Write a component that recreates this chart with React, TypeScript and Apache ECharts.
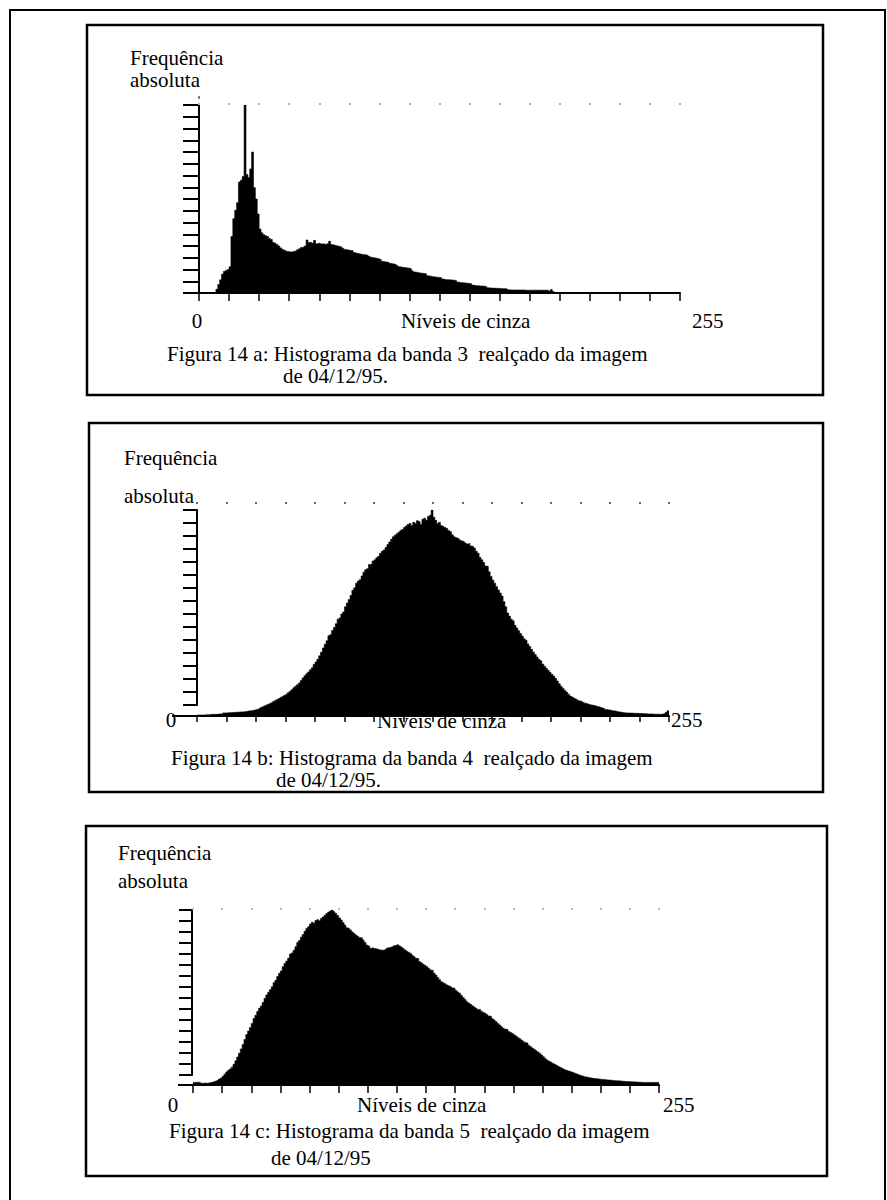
import React, { useEffect, useRef } from "react";
import * as echarts from "echarts";

// ---------- DATA (relative frequency, top of y-axis = 1000) ----------
const LEVELS = 256;

// Figura 14 a — banda 3
const band3: number[] = [
  0, 0, 0, 0, 0, 0, 0, 0, 0, 20,
  45, 70, 100, 115, 120, 125, 140, 300, 395, 440,
  480, 590, 600, 620, 1000, 630, 615, 660, 750, 560,
  500, 420, 340, 320, 310, 305, 300, 290, 285, 270,
  265, 258, 250, 240, 232, 228, 222, 220, 218, 220,
  222, 225, 230, 235, 242, 245, 250, 282, 268, 270,
  265, 280, 262, 265, 262, 260, 262, 258, 262, 275,
  258, 255, 252, 250, 248, 245, 238, 232, 230, 228,
  226, 225, 215, 212, 210, 208, 205, 204, 203, 200,
  195, 190, 188, 186, 184, 182, 178, 168, 166, 165,
  163, 158, 156, 154, 152, 145, 140, 138, 136, 135,
  133, 132, 130, 118, 112, 110, 108, 106, 105, 104,
  102, 92, 90, 88, 86, 85, 84, 83, 82, 75,
  72, 71, 70, 70, 69, 68, 67, 58, 56, 55,
  54, 53, 52, 51, 50, 42, 40, 39, 38, 37,
  37, 36, 35, 28, 27, 26, 26, 25, 25, 24,
  24, 23, 23, 22, 17, 16, 16, 16, 16, 16,
  16, 16, 16, 15, 15, 15, 15, 15, 15, 15,
  15, 15, 15, 15, 15, 14, 10, 18, 8, 0,
  0, 0, 0, 0, 0, 0, 0, 0, 0, 0,
  0, 0, 0, 0, 0, 0, 0, 0, 0, 0,
  0, 0, 0, 0, 0, 0, 0, 0, 0, 0,
  0, 0, 0, 0, 0, 0, 0, 0, 0, 0,
  0, 0, 0, 0, 0, 0, 0, 0, 0, 0,
  0, 0, 0, 0, 0, 0, 0, 0, 0, 0,
  0, 0, 0, 0, 0, 0,
];

// Figura 14 b — banda 4
const band4: number[] = [
  5, 5, 5, 5, 6, 6, 6, 8, 8, 8,
  8, 10, 10, 10, 15, 15, 16, 16, 17, 17,
  18, 18, 19, 20, 20, 21, 22, 24, 25, 26,
  28, 30, 33, 35, 40, 44, 48, 52, 56, 60,
  64, 70, 75, 80, 85, 90, 95, 100, 105, 113,
  120, 128, 137, 145, 152, 160, 172, 185, 195, 205,
  214, 224, 234, 250, 262, 275, 292, 310, 330, 348,
  365, 390, 395, 415, 430, 448, 470, 476, 495, 505,
  530, 548, 565, 585, 610, 622, 645, 655, 662, 680,
  698, 710, 715, 735, 738, 752, 758, 768, 775, 790,
  800, 806, 818, 832, 845, 858, 870, 878, 885, 892,
  900, 905, 915, 922, 930, 935, 925, 940, 935, 948,
  944, 930, 955, 960, 950, 968, 975, 1000, 965, 950,
  935, 940, 925, 920, 915, 910, 900, 895, 880, 870,
  865, 862, 855, 850, 847, 840, 835, 838, 825, 823,
  815, 800, 790, 770, 758, 745, 728, 726, 700, 677,
  660, 645, 628, 612, 597, 582, 555, 530, 500, 485,
  470, 462, 440, 427, 414, 400, 388, 375, 368, 350,
  337, 323, 310, 298, 286, 275, 268, 252, 242, 232,
  222, 212, 203, 194, 183, 170, 157, 145, 135, 125,
  116, 106, 97, 92, 87, 82, 77, 73, 70, 66,
  62, 59, 56, 54, 52, 50, 47, 45, 42, 39,
  36, 32, 30, 29, 27, 25, 24, 22, 20, 19,
  17, 16, 15, 15, 14, 14, 13, 13, 13, 12,
  12, 12, 11, 11, 10, 10, 10, 9, 9, 9,
  8, 8, 10, 12, 18, 25,
];

// Figura 14 c — banda 5
const band5: number[] = [
  15, 15, 16, 15, 10, 10, 11, 10, 12, 14,
  17, 20, 24, 28, 34, 40, 50, 62, 75, 84,
  92, 102, 118, 138, 160, 182, 206, 232, 260, 288,
  308, 328, 352, 380, 398, 420, 438, 452, 472, 495,
  515, 530, 545, 562, 585, 598, 620, 638, 652, 676,
  695, 708, 725, 748, 755, 770, 790, 815, 826, 845,
  860, 878, 895, 905, 920, 930, 925, 940, 945, 938,
  952, 960, 970, 980, 988, 995, 1000, 990, 980, 968,
  955, 943, 928, 914, 898, 895, 886, 875, 866, 857,
  850, 842, 842, 829, 815, 800, 795, 782, 785, 780,
  778, 775, 772, 770, 771, 775, 780, 785, 788, 790,
  796, 800, 802, 795, 788, 780, 772, 765, 758, 752,
  742, 733, 724, 722, 705, 698, 690, 683, 676, 667,
  657, 655, 638, 628, 615, 602, 590, 584, 578, 572,
  567, 562, 555, 552, 540, 532, 524, 512, 500, 488,
  476, 468, 461, 453, 446, 438, 432, 432, 421, 415,
  410, 402, 394, 392, 379, 371, 362, 352, 343, 333,
  324, 318, 318, 306, 300, 295, 287, 280, 272, 265,
  257, 249, 242, 240, 227, 219, 211, 204, 196, 189,
  181, 172, 162, 152, 143, 137, 131, 125, 120, 114,
  108, 103, 97, 92, 86, 82, 78, 75, 71, 67,
  63, 59, 55, 52, 48, 46, 44, 42, 40, 38,
  37, 36, 35, 33, 32, 31, 30, 29, 28, 27,
  26, 25, 24, 24, 23, 22, 21, 20, 20, 19,
  18, 18, 17, 17, 16, 16, 15, 15, 15, 15,
  15, 15, 15, 15, 15, 15,
];

const histograms = [band3, band4, band5];
const yTitleLines = ["Frequência", "absoluta"];
const xTitle = "Níveis de cinza";
const xEndLabels = ["0", "255"];
const yTickCounts = [16, 15, 15];
const captionLines = [
  ["Figura 14 a: Histograma da banda 3  realçado da imagem", "de 04/12/95."],
  ["Figura 14 b: Histograma da banda 4  realçado da imagem", "de 04/12/95."],
  ["Figura 14 c: Histograma da banda 5  realçado da imagem", "de 04/12/95"],
];

// ---------- LAYOUT ----------
const PANELS = [
  {
    box: [87, 25, 736, 370],
    grid: { left: 199, top: 105, width: 481, height: 188 },
    tick: { left: 199, top: 105, height: 188 },
    tickLen: 16, xTickLen: 8, dotOffset: 0, dotColor: "#b0b0b0", baseExt: 184,
    freq: [130, 58], abs: [130, 80], zero: [197, 321], title: [401, 321], end: [692, 321],
    cap1: [167, 354], cap2: [283, 376],
  },
  {
    box: [89, 423, 734, 369],
    grid: { left: 197, top: 510, width: 472, height: 206 },
    tick: { left: 197, top: 510, height: 195 },
    tickLen: 14, xTickLen: 6, dotOffset: 6, dotColor: "#666", baseExt: 172,
    freq: [124, 458], abs: [124, 496], zero: [171, 720], title: [377, 721], end: [671, 720],
    cap1: [171, 758], cap2: [276, 780],
  },
  {
    box: [86, 826, 741, 350],
    grid: { left: 193, top: 910, width: 466, height: 175 },
    tick: { left: 192, top: 910, height: 165 },
    tickLen: 13, xTickLen: 8, dotOffset: 0, dotColor: "#b8b8b8", baseExt: 178,
    freq: [118, 853], abs: [118, 881], zero: [173, 1105], title: [357, 1105], end: [663, 1105],
    cap1: [169, 1131], cap2: [271, 1158],
  },
];

const FONT = '"Liberation Serif", "Times New Roman", serif';

function txt(text: string, x: number, y: number, align: string = "left") {
  return {
    type: "text",
    x,
    y,
    z: 10,
    silent: true,
    style: {
      text,
      fill: "#000",
      fontSize: 21,
      fontFamily: FONT,
      align,
      verticalAlign: "middle",
    },
  };
}

function buildOption() {
  const grids: any[] = [];
  const xAxes: any[] = [];
  const yAxes: any[] = [];
  const series: any[] = [];
  const elements: any[] = [];

  // outer frame
  elements.push({
    type: "rect",
    shape: { x: 10, y: 10, width: 875, height: 1205 },
    style: { fill: "transparent", stroke: "#000", lineWidth: 2 },
    silent: true,
  });

  PANELS.forEach((p) => {
    grids.push({ ...p.grid, containLabel: false });
  });
  PANELS.forEach((p) => {
    grids.push({ left: p.tick.left, top: p.tick.top, width: 10, height: p.tick.height, containLabel: false });
  });

  PANELS.forEach((p, k) => {
    xAxes.push({
      type: "value",
      gridIndex: k,
      min: 0,
      max: LEVELS,
      interval: 16,
      position: "bottom",
      axisLine: { show: true, onZero: false, lineStyle: { color: "#000", width: 2 } },
      axisTick: { show: true, length: p.xTickLen, lineStyle: { color: "#000", width: 1.5 } },
      axisLabel: { show: false },
      splitLine: { show: false },
    });
  });
  PANELS.forEach((p, k) => {
    xAxes.push({
      type: "value",
      gridIndex: k,
      min: 0,
      max: LEVELS,
      interval: 16,
      position: "top",
      offset: p.dotOffset,
      axisLine: { show: false, onZero: false },
      axisTick: { show: true, length: 2, lineStyle: { color: p.dotColor, width: 2 } },
      axisLabel: { show: false },
      splitLine: { show: false },
    });
  });
  PANELS.forEach((p, k) => {
    xAxes.push({ type: "value", gridIndex: 3 + k, min: 0, max: 1, show: false });
  });

  PANELS.forEach((p, k) => {
    yAxes.push({ type: "value", gridIndex: k, min: 0, max: 1000, show: false });
  });
  PANELS.forEach((p, k) => {
    yAxes.push({
      type: "value",
      gridIndex: 3 + k,
      min: 0,
      max: yTickCounts[k],
      interval: 1,
      position: "left",
      axisLine: { show: true, onZero: false, lineStyle: { color: "#000", width: 2 } },
      axisTick: { show: true, length: p.tickLen, lineStyle: { color: "#000", width: 2 } },
      axisLabel: { show: false },
      splitLine: { show: false },
    });
  });

  histograms.forEach((vals, k) => {
    const data = vals.map((v, i) => [i, v]);
    data.push([LEVELS, vals[LEVELS - 1]]);
    series.push({
      type: "line",
      xAxisIndex: k,
      yAxisIndex: k,
      step: "end",
      symbol: "none",
      silent: true,
      lineStyle: { color: "#000", width: 0.6 },
      areaStyle: { color: "#000", opacity: 1 },
      data,
    });
  });

  PANELS.forEach((p, k) => {
    const [bx, by, bw, bh] = p.box;
    elements.push({
      type: "rect",
      shape: { x: bx, y: by, width: bw, height: bh },
      style: { fill: "transparent", stroke: "#000", lineWidth: 2.5 },
      silent: true,
    });
    const baseY = p.grid.top + p.grid.height;
    elements.push({
      type: "line",
      shape: { x1: p.baseExt, y1: baseY, x2: p.grid.left, y2: baseY },
      style: { stroke: "#000", lineWidth: 2 },
      silent: true,
    });
    elements.push(txt(yTitleLines[0], p.freq[0], p.freq[1]));
    elements.push(txt(yTitleLines[1], p.abs[0], p.abs[1]));
    elements.push(txt(xEndLabels[0], p.zero[0], p.zero[1], "center"));
    elements.push(txt(xTitle, p.title[0], p.title[1]));
    elements.push(txt(xEndLabels[1], p.end[0], p.end[1]));
    elements.push(txt(captionLines[k][0], p.cap1[0], p.cap1[1]));
    elements.push(txt(captionLines[k][1], p.cap2[0], p.cap2[1]));
  });

  elements.push({
    type: "line",
    shape: { x1: PANELS[0].tick.left, y1: 96, x2: PANELS[0].tick.left, y2: 99 },
    style: { stroke: "#555", lineWidth: 1.5 },
    silent: true,
  });

  return {
    animation: false,
    backgroundColor: "#fff",
    grid: grids,
    xAxis: xAxes,
    yAxis: yAxes,
    series,
    graphic: { elements },
  };
}

export default function App() {
  const ref = useRef<HTMLDivElement>(null);
  useEffect(() => {
    if (!ref.current) return;
    const chart = echarts.init(ref.current, null, { renderer: "svg" });
    chart.setOption(buildOption() as any);
    return () => chart.dispose();
  }, []);
  return (
    <div
      ref={ref}
      style={{ position: "absolute", left: 0, top: 0, width: 887, height: 1200, background: "#fff" }}
    />
  );
}
